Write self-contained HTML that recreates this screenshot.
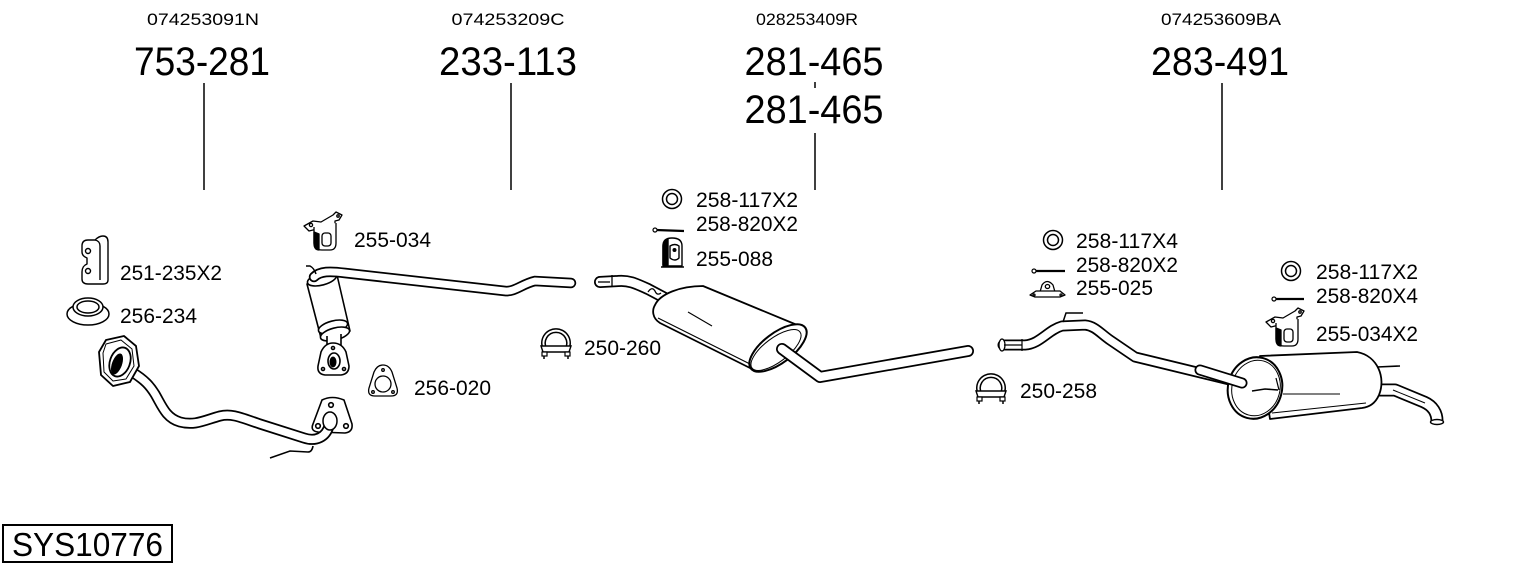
<!DOCTYPE html>
<html>
<head>
<meta charset="utf-8">
<style>
html,body{margin:0;padding:0;background:#fff;}
svg{display:block;}
text{font-family:"Liberation Sans",Arial,sans-serif;fill:#000;}
</style>
</head>
<body>
<svg width="1530" height="566" viewBox="0 0 1530 566" xmlns="http://www.w3.org/2000/svg">
<rect width="1530" height="566" fill="#fff"/>

<!-- Header texts -->
<g font-size="17" text-anchor="middle">
<text x="203" y="25" textLength="112" lengthAdjust="spacingAndGlyphs">074253091N</text>
<text x="508" y="25" textLength="113" lengthAdjust="spacingAndGlyphs">074253209C</text>
<text x="807" y="25" textLength="102" lengthAdjust="spacingAndGlyphs">028253409R</text>
<text x="1221" y="25" textLength="120" lengthAdjust="spacingAndGlyphs">074253609BA</text>
</g>
<g font-size="40" text-anchor="middle">
<text x="202" y="75" textLength="136" lengthAdjust="spacingAndGlyphs">753-281</text>
<text x="508" y="75" textLength="138" lengthAdjust="spacingAndGlyphs">233-113</text>
<text x="814" y="75" textLength="139" lengthAdjust="spacingAndGlyphs">281-465</text>
<text x="814" y="123" textLength="139" lengthAdjust="spacingAndGlyphs">281-465</text>
<text x="1220" y="75" textLength="138" lengthAdjust="spacingAndGlyphs">283-491</text>
</g>
<g stroke="#000" stroke-width="1.5">
<line x1="204" y1="83" x2="204" y2="190"/>
<line x1="511" y1="83" x2="511" y2="190"/>
<line x1="815" y1="82" x2="815" y2="88"/>
<line x1="815" y1="133" x2="815" y2="190"/>
<line x1="1222" y1="83" x2="1222" y2="190"/>
</g>

<!-- Part labels -->
<g font-size="21">
<text x="120" y="280" textLength="102" lengthAdjust="spacingAndGlyphs">251-235X2</text>
<text x="120" y="323" textLength="77" lengthAdjust="spacingAndGlyphs">256-234</text>
<text x="354" y="247" textLength="77" lengthAdjust="spacingAndGlyphs">255-034</text>
<text x="414" y="395" textLength="77" lengthAdjust="spacingAndGlyphs">256-020</text>
<text x="584" y="355" textLength="77" lengthAdjust="spacingAndGlyphs">250-260</text>
<text x="696" y="207" textLength="102" lengthAdjust="spacingAndGlyphs">258-117X2</text>
<text x="696" y="231" textLength="102" lengthAdjust="spacingAndGlyphs">258-820X2</text>
<text x="696" y="266" textLength="77" lengthAdjust="spacingAndGlyphs">255-088</text>
<text x="1076" y="248" textLength="102" lengthAdjust="spacingAndGlyphs">258-117X4</text>
<text x="1076" y="272" textLength="102" lengthAdjust="spacingAndGlyphs">258-820X2</text>
<text x="1076" y="295" textLength="77" lengthAdjust="spacingAndGlyphs">255-025</text>
<text x="1020" y="398" textLength="77" lengthAdjust="spacingAndGlyphs">250-258</text>
<text x="1316" y="279" textLength="102" lengthAdjust="spacingAndGlyphs">258-117X2</text>
<text x="1316" y="303" textLength="102" lengthAdjust="spacingAndGlyphs">258-820X4</text>
<text x="1316" y="341" textLength="102" lengthAdjust="spacingAndGlyphs">255-034X2</text>
</g>

<!-- SYS box -->
<rect x="3" y="525" width="169" height="37" fill="#fff" stroke="#000" stroke-width="2"/>
<text x="12" y="556" font-size="33" textLength="151" lengthAdjust="spacingAndGlyphs">SYS10776</text>

<!-- ===== Icons ===== -->
<!-- 251-235 bracket -->
<g fill="#fff" stroke="#000" stroke-width="1.4" stroke-linejoin="round">
<path d="M82,246 Q82,240 88,240 L95,240 Q99,236 103,236 Q108,236 108,242 L108,280 Q108,284 103,284 L88,284 Q82,284 82,279 L82,272 Q82,266 87,264 L87,258 Q82,256 82,252 Z"/>
<path d="M95,240 Q100,241 100,246 L100,280" fill="none"/>
<circle cx="88" cy="251" r="2.5"/>
<circle cx="88" cy="271" r="2.5"/>
</g>
<!-- 256-234 cone ring -->
<g fill="#fff" stroke="#000" stroke-width="1.5">
<ellipse cx="88" cy="314" rx="21" ry="11"/>
<ellipse cx="88" cy="307" rx="15" ry="9"/>
<ellipse cx="88" cy="307" rx="11" ry="6"/>
</g>

<!-- 255-034 hanger -->
<g transform="translate(303,212)" fill="#fff" stroke="#000" stroke-width="1.3" stroke-linejoin="round">
<path d="M1,14 L10,9 L18,10 L30,3 L33,0 L39,3 L36,8 L32,9 L32,12 L18,16 L6,19 Z"/>
<path d="M11,15 L11,31 Q11,38 19,38 L27,38 Q33,38 33,31 L33,11"/>
<path d="M11,20 L11,31 Q11,38 16,38 L16,22 Z" fill="#000"/>
<rect x="19" y="21" width="9" height="13" rx="3"/>
<circle cx="8" cy="13" r="1.6" fill="none"/>
<circle cx="35" cy="4" r="1.2" fill="none"/>
</g>
<!-- 255-034X2 hanger -->
<g transform="translate(1265,308)" fill="#fff" stroke="#000" stroke-width="1.3" stroke-linejoin="round">
<path d="M1,14 L10,9 L18,10 L30,3 L33,0 L39,3 L36,8 L32,9 L32,12 L18,16 L6,19 Z"/>
<path d="M11,15 L11,31 Q11,38 19,38 L27,38 Q33,38 33,31 L33,11"/>
<path d="M11,20 L11,31 Q11,38 16,38 L16,22 Z" fill="#000"/>
<rect x="19" y="21" width="9" height="13" rx="3"/>
<circle cx="8" cy="13" r="1.6" fill="none"/>
<circle cx="35" cy="4" r="1.2" fill="none"/>
</g>

<!-- 256-020 gasket -->
<g fill="#fff" stroke="#000" stroke-width="1.3">
<path d="M383,365 Q389,365 392,372 L397,388 Q399,396 391,396 L375,396 Q367,396 369,388 L374,372 Q377,365 383,365 Z"/>
<circle cx="383" cy="384" r="8"/>
<circle cx="383" cy="370" r="1.3"/>
<circle cx="373" cy="392" r="1.3"/>
<circle cx="393" cy="392" r="1.3"/>
</g>

<!-- Clamps -->
<g id="clamp1" transform="translate(556,341)">
<path d="M-11,8 A12.5,12.5 0 1 1 11,8" fill="none" stroke="#000" stroke-width="5"/>
<path d="M-11,8 A12.5,12.5 0 1 1 11,8" fill="none" stroke="#fff" stroke-width="2"/>
<path d="M-15,5 L15,5 L13,11 L-13,11 Z" fill="#fff" stroke="#000" stroke-width="1.4"/>
<rect x="-14" y="11" width="5" height="4" fill="#fff" stroke="#000" stroke-width="1.2"/>
<rect x="9" y="11" width="5" height="4" fill="#fff" stroke="#000" stroke-width="1.2"/>
<line x1="-12" y1="15" x2="-12" y2="18" stroke="#000" stroke-width="1.5"/>
<line x1="12" y1="15" x2="12" y2="18" stroke="#000" stroke-width="1.5"/>
</g>
<g transform="translate(991,386)">
<path d="M-11,8 A12.5,12.5 0 1 1 11,8" fill="none" stroke="#000" stroke-width="5"/>
<path d="M-11,8 A12.5,12.5 0 1 1 11,8" fill="none" stroke="#fff" stroke-width="2"/>
<path d="M-15,5 L15,5 L13,11 L-13,11 Z" fill="#fff" stroke="#000" stroke-width="1.4"/>
<rect x="-14" y="11" width="5" height="4" fill="#fff" stroke="#000" stroke-width="1.2"/>
<rect x="9" y="11" width="5" height="4" fill="#fff" stroke="#000" stroke-width="1.2"/>
<line x1="-12" y1="15" x2="-12" y2="18" stroke="#000" stroke-width="1.5"/>
<line x1="12" y1="15" x2="12" y2="18" stroke="#000" stroke-width="1.5"/>
</g>

<!-- Rings 258-117 -->
<g fill="none" stroke="#000" stroke-width="1.5">
<circle cx="672" cy="199" r="9.5"/><circle cx="672" cy="199" r="5.5"/>
<circle cx="1053" cy="240" r="9.5"/><circle cx="1053" cy="240" r="5.5"/>
<circle cx="1291" cy="271" r="9.5"/><circle cx="1291" cy="271" r="5.5"/>
</g>
<!-- Bolts 258-820 -->
<g stroke="#000">
<line x1="656" y1="230" x2="684" y2="231" stroke-width="2.2"/>
<circle cx="655" cy="230" r="2" fill="#fff" stroke-width="1.2"/>
<line x1="1036" y1="271" x2="1065" y2="271" stroke-width="2.2"/>
<circle cx="1034" cy="271" r="2" fill="#fff" stroke-width="1.2"/>
<line x1="1275" y1="299" x2="1304" y2="299" stroke-width="2.2"/>
<circle cx="1274" cy="299" r="2" fill="#fff" stroke-width="1.2"/>
</g>

<!-- 255-088 hanger -->
<g transform="translate(660,238)" fill="#fff" stroke="#000" stroke-width="1.4" stroke-linejoin="round">
<path d="M3,28 L3,8 Q3,0 12,0 Q22,0 22,8 L22,28 Z"/>
<path d="M3,27 L3,8 Q3,2 8,1 L8,27 Z" fill="#000"/>
<path d="M10,8 Q15,5 19,8 L19,20 Q15,24 10,20 Z"/>
<circle cx="14.5" cy="12" r="2" fill="#000" stroke="none"/>
<line x1="1" y1="29" x2="24" y2="29"/>
</g>

<!-- 255-025 hanger -->
<g transform="translate(1030,280)" fill="#fff" stroke="#000" stroke-width="1.3" stroke-linejoin="round">
<path d="M10,12 L12,5 Q17,-2 23,5 L25,12 Z"/>
<ellipse cx="17.5" cy="6.5" rx="2.2" ry="2"/>
<path d="M0,15 L6,11 L30,11 L35,15 L30,17 L5,17 Z"/>
<circle cx="4" cy="15" r="1"/>
<circle cx="31" cy="15" r="1"/>
</g>

<!-- ===== 753-281 front pipe ===== -->
<g fill="#fff" stroke="#000" stroke-width="1.6" stroke-linejoin="round">
<path d="M322,400 Q332,395 344,400 L352,424 Q353,432 345,433 L318,432 Q310,431 313,424 Z"/>
<circle cx="331" cy="405" r="2.3"/>
<circle cx="318" cy="426" r="2.3"/>
<circle cx="346" cy="426" r="2.3"/>
</g>
<path d="M132,372 C145,380 150,386 155,394 C162,406 166,418 180,422 C195,426 205,420 220,416 C232,413 242,418 260,424 L304,438 C316,442 326,437 329,426" fill="none" stroke="#000" stroke-width="11" stroke-linecap="round"/>
<path d="M132,372 C145,380 150,386 155,394 C162,406 166,418 180,422 C195,426 205,420 220,416 C232,413 242,418 260,424 L304,438 C316,442 326,437 329,426" fill="none" stroke="#fff" stroke-width="7.5" stroke-linecap="round"/>
<ellipse cx="330" cy="421" rx="7" ry="9" fill="#fff" stroke="#000" stroke-width="1.5"/>
<path d="M270,458 L290,451 L308,452 Q312,452 313,446" fill="none" stroke="#000" stroke-width="1.6"/>
<g fill="#fff" stroke="#000" stroke-width="1.8" stroke-linejoin="round">
<path d="M106,340 L124,336 L136,346 L139,366 L130,382 L113,386 L101,375 L99,352 Z"/>
<path d="M106,344 L121,340 L132,349 L134,366 L126,379 L113,381 L104,372 L103,353 Z" stroke-width="1"/>
<ellipse cx="120" cy="362" rx="10" ry="15" transform="rotate(20 120 362)"/>
<ellipse cx="117" cy="364" rx="5" ry="11" transform="rotate(20 117 364)" fill="#000" stroke="none"/>
</g>

<!-- ===== 233-113 middle pipe with cat ===== -->
<g fill="#fff" stroke="#000" stroke-width="1.6" stroke-linejoin="round">
<path d="M307,284 L321,338 L350,331 L337,275 Z"/>
<ellipse cx="322" cy="279" rx="15" ry="6" transform="rotate(-15 322 279)"/>
<ellipse cx="333" cy="327" rx="15" ry="6" transform="rotate(-15 333 327)"/>
<ellipse cx="335" cy="334" rx="15" ry="6" transform="rotate(-15 335 334)"/>
<path d="M327,336 L327,348 L341,348 L341,334"/>
<path d="M333,343 Q342,343 346,352 L349,366 Q349,374 341,375 L325,375 Q317,374 318,366 L321,352 Q325,343 333,343 Z"/>
<circle cx="333" cy="348" r="1.5"/>
<circle cx="323" cy="369" r="1.5"/>
<circle cx="344" cy="369" r="1.5"/>
<ellipse cx="334" cy="361" rx="6" ry="8"/>
<ellipse cx="333" cy="362" rx="3.5" ry="5.5" fill="#000" stroke="none"/>
</g>
<path d="M314,277 C320,271 330,271 345,273 L505,291 C515,292 522,284 535,281 L571,283" fill="none" stroke="#000" stroke-width="10.5" stroke-linecap="round"/>
<path d="M314,277 C320,271 330,271 345,273 L505,291 C515,292 522,284 535,281 L571,283" fill="none" stroke="#fff" stroke-width="7" stroke-linecap="round"/>
<path d="M306,266 L310,266 Q314,268 316,274" fill="none" stroke="#000" stroke-width="1.5"/>

<!-- ===== 281-465 front silencer ===== -->
<path d="M600,282 L618,281 C628,280 635,283 648,289 L665,298" fill="none" stroke="#000" stroke-width="12" stroke-linecap="round"/>
<path d="M600,282 L618,281 C628,280 635,283 648,289 L665,298" fill="none" stroke="#fff" stroke-width="8.5" stroke-linecap="round"/>
<line x1="612" y1="275" x2="612" y2="287" stroke="#000" stroke-width="1.3"/>
<line x1="598" y1="282" x2="610" y2="282" stroke="#000" stroke-width="1.3"/>
<path d="M648,292 Q652,286 655,291 Q657,296 661,293" fill="none" stroke="#000" stroke-width="1.3"/>
<g fill="#fff" stroke="#000" stroke-width="1.8" stroke-linejoin="round">
<path d="M655,305 C660,294 680,286 703,286 L802,327 L752,369 L660,323 C652,318 652,310 655,305 Z"/>
<path d="M658,318 L750,364" fill="none" stroke-width="1.1"/>
<path d="M688,312 L712,326" fill="none" stroke-width="1.1"/>
<ellipse cx="778" cy="348" rx="34" ry="15" transform="rotate(-37 778 348)" stroke-width="2"/>
<ellipse cx="776" cy="350" rx="30" ry="12" transform="rotate(-37 776 350)" stroke-width="1"/>
</g>
<path d="M782,349 L820,377 L968,351" fill="none" stroke="#000" stroke-width="12" stroke-linecap="round" stroke-linejoin="round"/>
<path d="M782,349 L820,377 L968,351" fill="none" stroke="#fff" stroke-width="8.5" stroke-linecap="round" stroke-linejoin="round"/>

<!-- ===== 283-491 rear pipe + silencer ===== -->
<path d="M1003,345 L1025,345 C1040,344 1048,330 1062,326 L1085,325 C1095,326 1100,333 1110,340 L1135,357 L1242,383" fill="none" stroke="#000" stroke-width="11" stroke-linecap="round" stroke-linejoin="round"/>
<path d="M1003,345 L1025,345 C1040,344 1048,330 1062,326 L1085,325 C1095,326 1100,333 1110,340 L1135,357 L1242,383" fill="none" stroke="#fff" stroke-width="7.5" stroke-linecap="round" stroke-linejoin="round"/>
<ellipse cx="1002" cy="345" rx="3" ry="6" fill="#fff" stroke="#000" stroke-width="1.3"/>
<line x1="1004" y1="345" x2="1022" y2="345" stroke="#000" stroke-width="1.2"/>
<line x1="1022" y1="339" x2="1022" y2="351" stroke="#000" stroke-width="1.2"/>
<path d="M1063,322 L1066,313 L1083,313" fill="none" stroke="#000" stroke-width="1.5"/>

<!-- tailpipe -->
<path d="M1378,390 L1395,390 L1424,402 C1433,406 1437,413 1437,421" fill="none" stroke="#000" stroke-width="13" stroke-linejoin="round"/>
<path d="M1378,390 L1395,390 L1424,402 C1433,406 1437,413 1437,421" fill="none" stroke="#fff" stroke-width="9.5" stroke-linejoin="round"/>
<ellipse cx="1437" cy="422" rx="6.5" ry="2.5" fill="#fff" stroke="#000" stroke-width="1.4"/>
<line x1="1393" y1="390" x2="1425" y2="403" stroke="#000" stroke-width="1"/>
<g fill="#fff" stroke="#000" stroke-width="1.8" stroke-linejoin="round">
<path d="M1260,356 L1357,352 C1378,356 1386,378 1379,395 C1375,404 1369,407 1362,408 L1270,419 Z"/>
<path d="M1272,413 L1366,403" fill="none" stroke-width="1"/>
<path d="M1283,394 L1340,394" fill="none" stroke-width="1"/>
<ellipse cx="1255" cy="388" rx="27" ry="31" transform="rotate(15 1255 388)" stroke-width="2"/>
<ellipse cx="1256" cy="388" rx="24" ry="28" transform="rotate(15 1256 388)" stroke-width="1"/>
</g>
<path d="M1377,367 L1400,366" fill="none" stroke="#000" stroke-width="1.6"/>
<path d="M1200,370 L1242,383" fill="none" stroke="#000" stroke-width="11" stroke-linecap="round"/>
<path d="M1200,370 L1242,383" fill="none" stroke="#fff" stroke-width="7.5" stroke-linecap="round"/>
<path d="M1252,391 L1265,389 L1278,390" fill="none" stroke="#000" stroke-width="1.6"/>
<path d="M1276,378 L1279,390" fill="none" stroke="#000" stroke-width="1.2"/>
</svg>
</body>
</html>
